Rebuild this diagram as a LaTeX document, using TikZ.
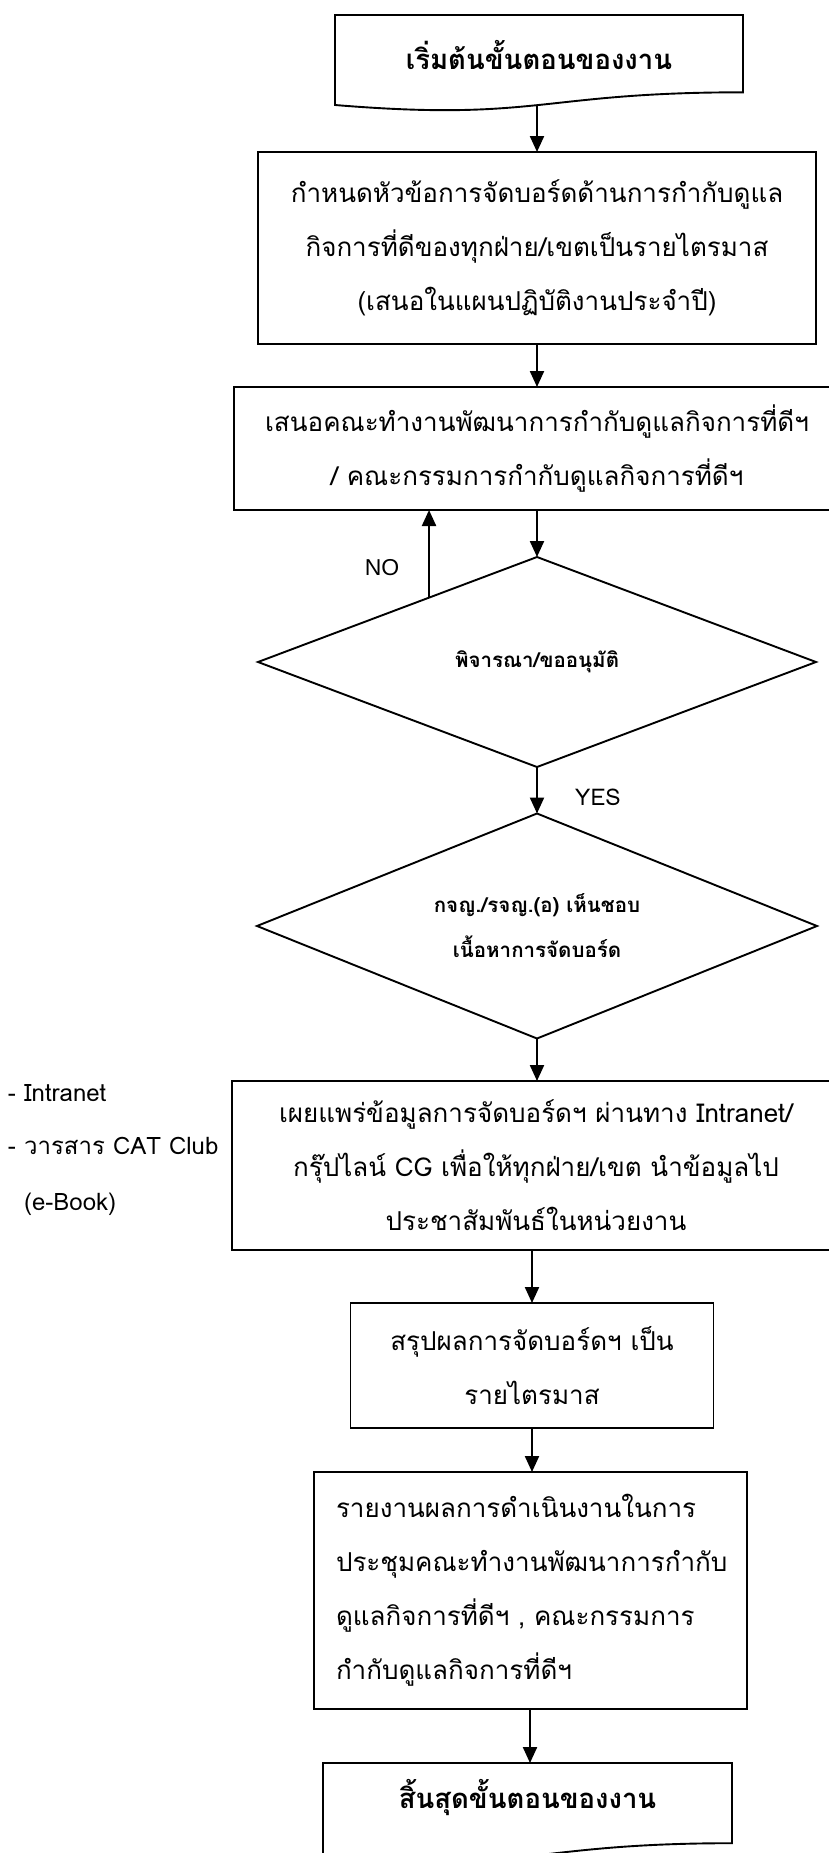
\documentclass[tikz,border=0pt]{standalone}
\usepackage{fontspec}
\setmainfont[Script=Thai]{Loma}
\newfontfamily\latinsans{Liberation Sans}
\usetikzlibrary{arrows.meta,calc,shapes.geometric}

\begin{document}
\begin{tikzpicture}[x=1pt,y=-1pt,
  every node/.style={inner sep=0pt, outer sep=0pt},
  box/.style={draw, line width=1.9pt, rectangle, align=center,
    font=\fontsize{26}{54}\selectfont},
  decision/.style={draw, line width=1.9pt, diamond, align=center,
    font=\bfseries\fontsize{20.5}{45}\selectfont},
  docshape/.style={draw, line width=1.9pt, line join=miter},
  doctext/.style={font=\bfseries\fontsize{27.5}{30}\selectfont},
  arr/.style={line width=2.2pt, -{Triangle[width=14pt,length=16pt]}},
  note/.style={font=\fontsize{24}{28}\selectfont},
]
% page
\fill[white] (0,0) rectangle (828,1853);
\useasboundingbox (0,0) rectangle (828,1853);

% start terminal (document shape)
\draw[docshape] (335,15) -- (743,15) -- (743,92.3)
  .. controls (539,92.3) and (539,121.8) .. (335,105) -- cycle;
\node[doctext] (start) at (539,55) {เริ่มต้นขั้นตอนของงาน};
\coordinate (startout) at (537,105);

% process boxes
\node[box, minimum width=558, minimum height=192] (b2) at (537,248)
  {กำหนดหัวข้อการจัดบอร์ดด้านการกำกับดูแล\\กิจการที่ดีของทุกฝ่าย/เขตเป็นรายไตรมาส\\(เสนอในแผนปฏิบัติงานประจำปี)};
\node[box, minimum width=606, minimum height=123] (b3) at (537,448.5)
  {เสนอคณะทำงานพัฒนาการกำกับดูแลกิจการที่ดีฯ\\/ คณะกรรมการกำกับดูแลกิจการที่ดีฯ};

% decisions
\node[decision, shape aspect=2.66, minimum width=558, minimum height=210] (d1) at (537,662)
  {พิจารณา/ขออนุมัติ};
\node[decision, shape aspect=2.49, minimum width=560, minimum height=225] (d2) at (537,926)
  {กจญ./รจญ.(อ) เห็นชอบ\\เนื้อหาการจัดบอร์ด};

\node[box, minimum width=608, minimum height=169] (b4) at (536,1165.5)
  {เผยแพร่ข้อมูลการจัดบอร์ดฯ ผ่านทาง Intranet/\\กรุ๊ปไลน์ CG เพื่อให้ทุกฝ่าย/เขต นำข้อมูลไป\\ประชาสัมพันธ์ในหน่วยงาน};
\node[box, minimum width=363, minimum height=125] (b5) at (532,1365.5)
  {สรุปผลการจัดบอร์ดฯ เป็น\\รายไตรมาส};
\node[box, align=left, text width=389pt, inner xsep=22pt, minimum height=237] (b6) at (530.5,1590.5)
  {รายงานผลการดำเนินงานในการ\\ประชุมคณะทำงานพัฒนาการกำกับ\\ดูแลกิจการที่ดีฯ , คณะกรรมการ\\กำกับดูแลกิจการที่ดีฯ};

% end terminal (document shape)
\draw[docshape] (323,1763) -- (732,1763) -- (732,1843.2)
  .. controls (527.5,1843.2) and (527.5,1873.8) .. (323,1856.4) -- cycle;
\node[doctext] (finish) at (527.5,1797) {สิ้นสุดขั้นตอนของงาน};
\coordinate (finishtop) at (530,1763);

% side note
\node[note, align=left, anchor=north west] (media) at (8,1084)
  {- Intranet\\[25pt]- วารสาร CAT Club\\[28pt]\phantom{- }(e-Book)};

% labels
\node[font=\latinsans\fontsize{23}{26}\selectfont] (nolab) at (382,568) {NO};
\node[font=\fontsize{23}{26}\selectfont] (yeslab) at (598,797) {YES};

% connectors
\draw[arr] (startout) -- (startout |- b2.north);
\draw[arr] (b2.south) -- (b3.north);
\draw[arr] (b3.south) -- (d1.north);
\coordinate (noout) at ($(d1.west)!0.613!(d1.north)$);
\draw[arr] (noout) -- (noout |- b3.south);
\draw[arr] (d1.south) -- (d2.north);
\draw[arr] (d2.south) -- (d2.south |- b4.north);
\draw[arr] (b5.north |- b4.south) -- (b5.north);
\draw[arr] (b5.south) -- (b5.south |- b6.north);
\draw[arr] (b6.south -| finishtop) -- (finishtop);
\end{tikzpicture}
\end{document}
